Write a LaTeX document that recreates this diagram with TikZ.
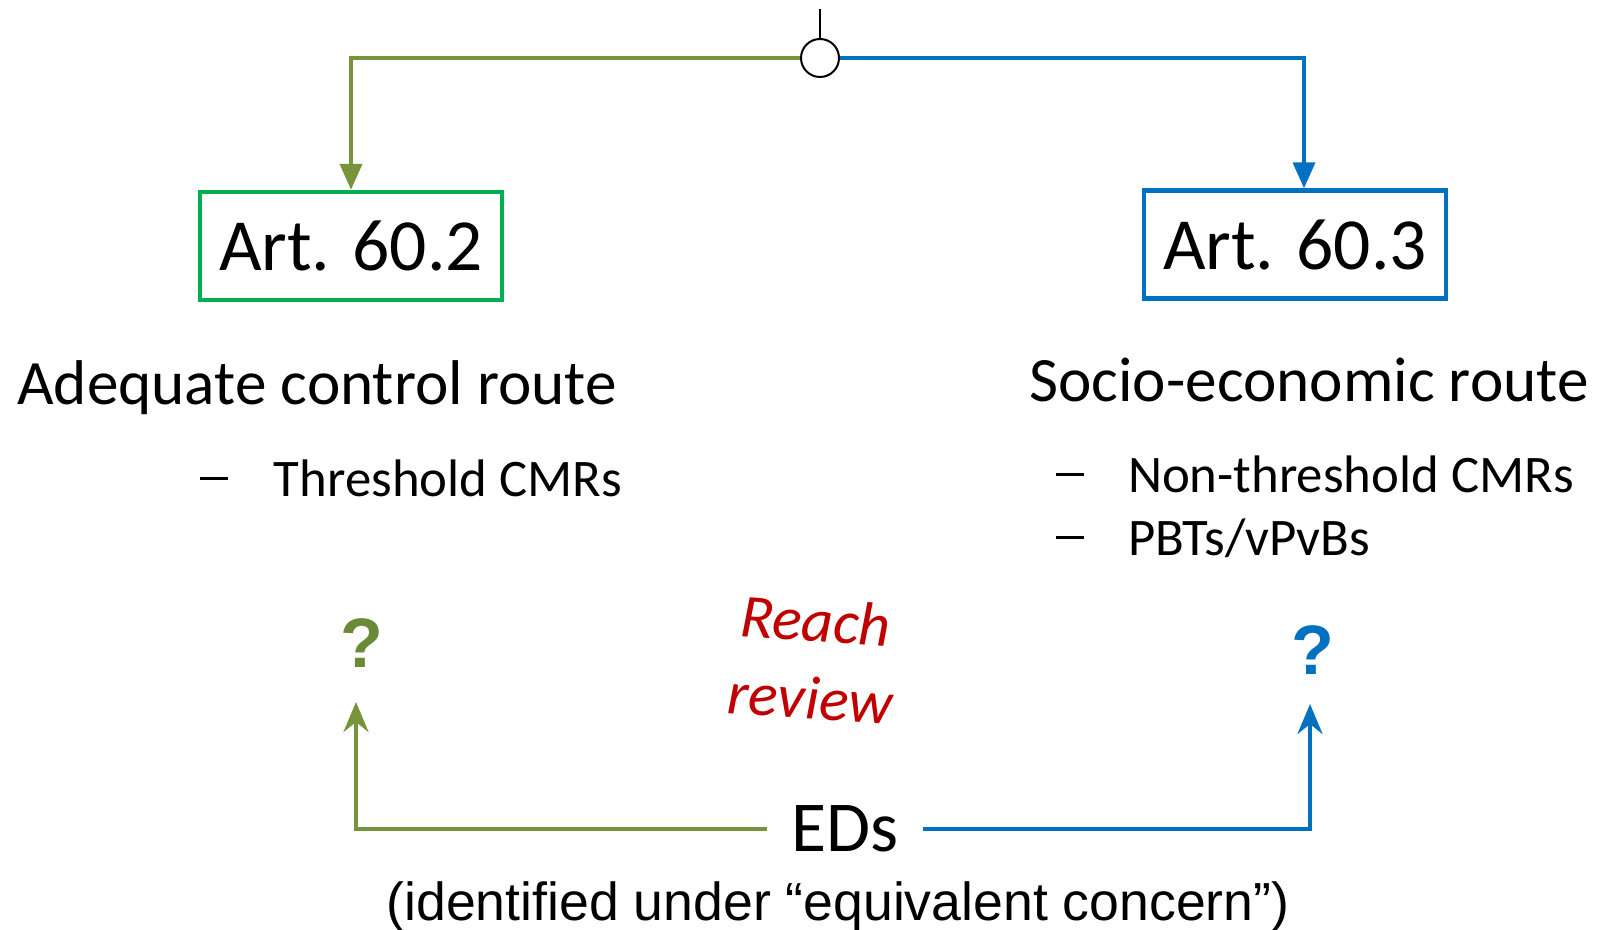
\documentclass[tikz,border=0pt]{standalone}
\usepackage{fontspec}
\setmainfont{Carlito}
\newfontfamily\arialf{Liberation Sans}
\usetikzlibrary{arrows.meta}
\definecolor{lgreen}{HTML}{77933C}
\definecolor{qgreen}{HTML}{6B8A38}
\definecolor{bgreen}{HTML}{00B050}
\definecolor{lblue}{HTML}{0070C0}
\definecolor{dred}{HTML}{C00000}
\newcommand{\bdash}[1]{\makebox[#1][l]{\raisebox{8pt}{\rule{13.8pt}{1.3pt}}}}
\tikzset{
  artbox/.style={draw, line width=2.2pt, rectangle, minimum width=151pt, minimum height=54pt, inner sep=0pt,
    font=\fontsize{36.75}{44}\selectfont},
  routetxt/.style={anchor=base, inner sep=0pt, font=\fontsize{31.6}{38}\selectfont},
  bullettxt/.style={anchor=base west, inner sep=0pt, font=\fontsize{26.4}{32}\selectfont},
  conn/.style={line width=2pt},
  toptip/.style={-{Triangle[length=13pt,width=11pt]}},
  bottip/.style={-{Stealth[length=15pt,width=12.5pt,inset=5pt]}},
  qmark/.style={inner sep=0pt, font=\arialf\bfseries\fontsize{35}{40}\selectfont}
}
\begin{document}
\begin{tikzpicture}[x=0.5pt,y=-0.5pt]
\useasboundingbox (0,0) rectangle (1600,930);
% split point
\coordinate (top) at (820,9);
\node[circle, draw, line width=1pt, fill=white, minimum size=19pt, inner sep=0pt] (c) at (820,58) {};
\draw[line width=0.8pt] (top) -- (c.north);
% boxes
\node[artbox, draw=bgreen] (boxL) at (351,246) {Art. 60.2};
\node[artbox, draw=lblue] (boxR) at (1295,244.5) {Art. 60.3};
\coordinate (inR) at ([xshift=4.5pt]boxR.north);
\draw[conn, lgreen, toptip] (c.west) -| (boxL.north);
\draw[conn, lblue, toptip] (c.east) -| (inR);
% routes
\node[routetxt] (rL) at (317,405) {Adequate control route};
\node[routetxt] (rR) at (1309,401) {Socio-economic route};
\node[bullettxt] (b1) at (200,496) {\bdash{36.75pt}Threshold CMRs};
\node[bullettxt] (b2) at (1056,492) {\bdash{35.8pt}Non-threshold CMRs};
\node[bullettxt] (b3) at (1056,555) {\bdash{35.8pt}PBTs/vPvBs};
% question marks
\node[qmark, text=qgreen] (qL) at (362,643) {?};
\node[qmark, text=lblue] (qR) at (1313,650) {?};
% reach review
\node[text=dred, rotate=-4, align=center, inner sep=0pt, font=\itshape\fontsize{30.7}{38.8}\selectfont] (rr) at (813,659) {Reach\\review};
% EDs
\node[inner xsep=12pt, inner ysep=0pt, font=\fontsize{35.8}{42}\selectfont] (eds) at (845,829) {EDs};
\node[inner sep=0pt, font=\arialf\fontsize{26.8}{32}\selectfont] (ident) at (838,907) {(identified under “equivalent concern”)};
\coordinate (tipL) at (356,702);
\coordinate (tipR) at (1310,704);
\draw[conn, lgreen, bottip] (eds.west) -| (tipL);
\draw[conn, lblue, bottip] (eds.east) -| (tipR);
\end{tikzpicture}
\end{document}
